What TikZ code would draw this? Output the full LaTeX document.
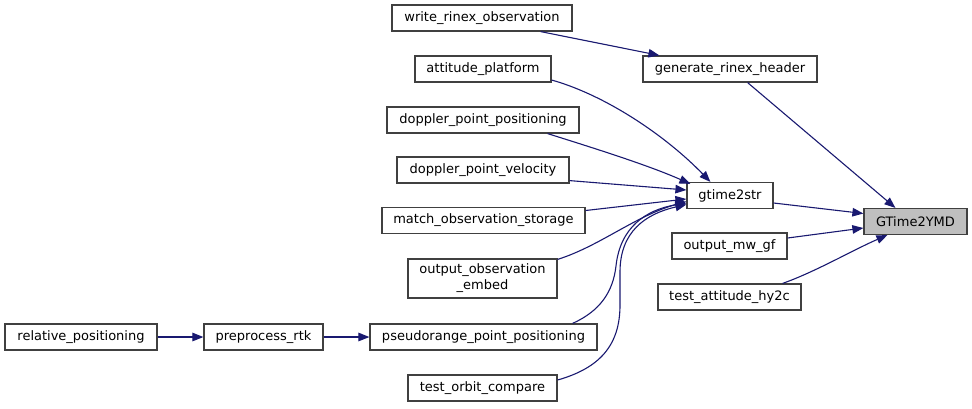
\documentclass[tikz,border=0pt]{standalone}
\usepackage{fontspec}
\setmainfont{DejaVu Sans}
\usetikzlibrary{arrows.meta}
\definecolor{edgec}{HTML}{191970}
\definecolor{boxc}{HTML}{404040}
\definecolor{hl}{HTML}{BFBFBF}
\tikzset{
  box/.style={draw=boxc, line width=1.2pt, fill=white, minimum height=26pt,
    inner xsep=0pt, inner ysep=0pt, font=\fontsize{13}{16}\selectfont, text=black},
  edge/.style={draw=edgec, line width=1.1pt, -{Triangle[length=11pt,width=8.5pt]}}
}
\begin{document}
\begin{tikzpicture}[x=1pt,y=-1pt]
\useasboundingbox (0,0) rectangle (972,408);
% rank 0
\node[box, fill=hl, minimum width=103pt] (ymd) at (915.5,221.5) {GTime2YMD};
% rank 1
\node[box, minimum width=174pt] (grh) at (730,69) {generate\_rinex\_header};
\node[box, minimum width=86pt] (g2s) at (730,195.5) {gtime2str};
\node[box, minimum width=115pt] (omg) at (729.5,246) {output\_mw\_gf};
\node[box, minimum width=143pt] (tah) at (729.5,297) {test\_attitude\_hy2c};
% rank 2
\node[box, minimum width=180pt] (wro) at (482,18) {write\_rinex\_observation};
\node[box, minimum width=136pt] (atp) at (483,69) {attitude\_platform};
\node[box, minimum width=192pt] (dpp) at (483,120) {doppler\_point\_positioning};
\node[box, minimum width=172pt] (dpv) at (483,170) {doppler\_point\_velocity};
\node[box, minimum width=203pt] (mos) at (483.5,220.5) {match\_observation\_storage};
\node[box, minimum width=149pt, minimum height=39pt, align=center] (ooe) at (482.5,278.5) {output\_observation\\\_embed};
\node[box, minimum width=227pt] (ppp) at (483.5,337) {pseudorange\_point\_positioning};
\node[box, minimum width=149pt] (toc) at (482.5,388) {test\_orbit\_compare};
% rank 3, 4
\node[box, minimum width=119pt] (prt) at (263.5,337) {preprocess\_rtk};
\node[box, minimum width=152pt] (rel) at (81,337) {relative\_positioning};

% edges into GTime2YMD
\draw[edge] ([xshift=-70pt]grh.south east) -- ([xshift=32pt]ymd.north west);
\draw[edge] ([yshift=-7.5pt]g2s.east) -- ([yshift=8pt]ymd.west);
\draw[edge] ([yshift=8pt]omg.east) -- ([yshift=-6.5pt]ymd.west);
\draw[edge] ([xshift=-19pt]tah.north east) .. controls (815,272) and (855,249) .. ([xshift=24pt]ymd.south west);
% edge into generate_rinex_header
\draw[edge] ([xshift=-32pt]wro.south east) -- ([xshift=17pt]grh.north west);
% edges into gtime2str
\draw[edge] ([yshift=-11pt]atp.east) .. controls (605,95) and (665,135) .. ([xshift=24pt]g2s.north west);
\draw[edge] ([xshift=-32pt]dpp.south east) .. controls (600,150) and (650,166) .. ([xshift=4pt,yshift=-2pt]g2s.north west);
\draw[edge] ([yshift=3pt]dpv.south east) -- ([yshift=5.5pt]g2s.west);
\draw[edge] ([yshift=10pt]mos.east) -- ([yshift=-3.5pt]g2s.west);
\draw[edge] ([yshift=-1pt]ooe.north east) .. controls (600,246) and (635,216) .. ([yshift=-6pt]g2s.west);
\draw[edge] ([xshift=-25pt]ppp.north east) .. controls (600,311) and (613,292) .. (616,266)
  .. controls (620,228) and (645,210) .. ([yshift=-7.5pt]g2s.west);
\draw[edge] ([yshift=8pt]toc.east) .. controls (600,368) and (620,345) .. (620,305)
  -- (620,272) .. controls (620,232) and (645,214) .. ([yshift=-9pt]g2s.west);
% chain
\draw[edge] (rel.east) -- (prt.west);
\draw[edge] (prt.east) -- (ppp.west);
\end{tikzpicture}
\end{document}
